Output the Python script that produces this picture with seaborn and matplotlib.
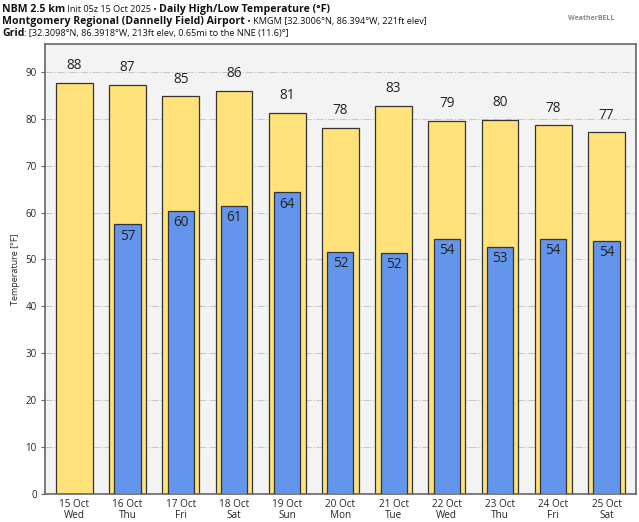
import numpy as np
import pandas as pd
import matplotlib
matplotlib.use("Agg")
import matplotlib.pyplot as plt
import seaborn as sns

# values
days = ["15 Oct\nWed", "16 Oct\nThu", "17 Oct\nFri", "18 Oct\nSat", "19 Oct\nSun", "20 Oct\nMon",
        "21 Oct\nTue", "22 Oct\nWed", "23 Oct\nThu", "24 Oct\nFri", "25 Oct\nSat"]
highs = [87.7, 87.3, 84.9, 86.0, 81.3, 78.1, 82.8, 79.6, 79.8, 78.6, 77.1]
lows = [np.nan, 57.5, 60.3, 61.4, 64.3, 51.6, 51.4, 54.4, 52.7, 54.4, 53.9]
high_labels = ["88", "87", "85", "86", "81", "78", "83", "79", "80", "78", "77"]
low_labels = ["", "57", "60", "61", "64", "52", "52", "54", "53", "54", "54"]

HIGH_COLOR = "#ffe27a"
LOW_COLOR = "#6495ed"

sns.set_style("white")
plt.rcParams["font.family"] = ["Open Sans", "DejaVu Sans"]

df = pd.DataFrame({"day": days, "high": highs, "low": lows})

fig = plt.figure(figsize=(6.39, 5.22), dpi=100)
ax = fig.add_axes([0.0704, 0.054, 0.9246, 0.862])
ax.set_facecolor("#f3f3f3")

sns.barplot(data=df, x="day", y="high", color=HIGH_COLOR, width=0.69,
            edgecolor="#333333", linewidth=0.9, saturation=1, ax=ax, zorder=2)
sns.barplot(data=df, x="day", y="low", color=LOW_COLOR, width=0.49,
            edgecolor="#333333", linewidth=0.9, saturation=1, ax=ax, zorder=3)

for i, (h, l) in enumerate(zip(highs, lows)):
    ax.text(i, h + 2.0, high_labels[i], ha="center", va="bottom", fontsize=9.8, color="#222222")
    if not np.isnan(l):
        ax.text(i, l - 0.9, low_labels[i], ha="center", va="top", fontsize=9.8, color="#222222", zorder=4)

ax.set_ylim(0, 96)
ax.set_xlim(-0.55, len(days) - 0.45)
ax.set_yticks(range(0, 100, 10))
ax.yaxis.grid(True, color="#c8c8c8", linestyle="-.", linewidth=0.8, zorder=0)
ax.set_axisbelow(True)
ax.set_xlabel("")
ax.set_ylabel("Temperature [°F]", fontsize=6.5, labelpad=4)
ax.tick_params(axis="y", labelsize=7, length=3, color="#666666", left=True, pad=3)
ax.tick_params(axis="x", labelsize=7.2, bottom=False, pad=0.5)
for lab in ax.get_xticklabels():
    lab.set_linespacing(1.0)
for s in ax.spines.values():
    s.set_color("#666666")
    s.set_linewidth(1.2)

# title lines, bold and normal parts side by side
renderer = fig.canvas.get_renderer()
lines = [
    [("NBM 2.5 km", "bold"), (" Init 05z 15 Oct 2025 • ", "normal"), ("Daily High/Low Temperature (°F)", "bold")],
    [("Montgomery Regional (Dannelly Field) Airport", "bold"), (" • KMGM [32.3006°N, 86.394°W, 221ft elev]", "normal")],
    [("Grid", "bold"), (": [32.3098°N, 86.3918°W, 213ft elev, 0.65mi to the NNE (11.6)°]", "normal")],
]
ypos = [0.981, 0.958, 0.935]
for parts, y in zip(lines, ypos):
    x = 0.003
    for txt, wt in parts:
        size = 7.6 if wt == "bold" else 6.6
        t = fig.text(x, y, txt, fontsize=size, fontweight=wt, va="center", ha="left", color="#111111")
        bb = t.get_window_extent(renderer)
        x += bb.width / fig.bbox.width

fig.text(0.925, 0.965, "WeatherBELL", fontsize=5, color="#888888", ha="center", va="center",
         fontweight="bold")

plt.savefig("out.png", dpi=100)
